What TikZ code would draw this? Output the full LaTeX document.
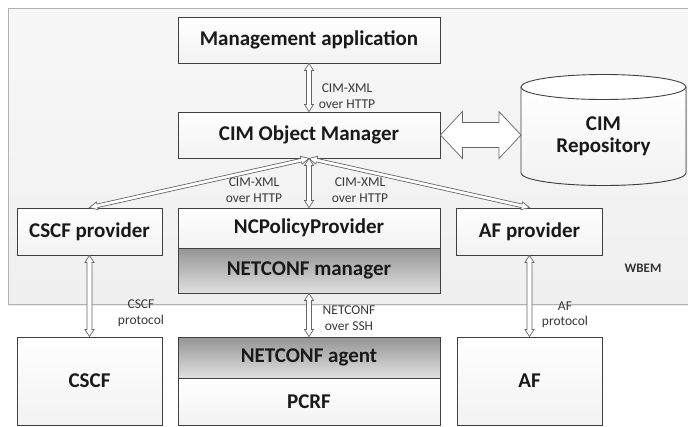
\documentclass[tikz,border=0pt]{standalone}
\usepackage{fontspec}
\setmainfont{Carlito}
\usetikzlibrary{calc}
\newcommand\harrow[6]{%
  \coordinate (ha-P) at ($(#2)!#6!(#3)$);
  \coordinate (ha-Q) at ($(#3)!#6!(#2)$);
  \filldraw[#1] (#2) -- ($(ha-P)!#5!90:(#3)$) -- ($(ha-P)!#4!90:(#3)$)
    -- ($(ha-Q)!#4!-90:(#2)$) -- ($(ha-Q)!#5!-90:(#2)$) -- (#3)
    -- ($(ha-Q)!#5!90:(#2)$) -- ($(ha-Q)!#4!90:(#2)$)
    -- ($(ha-P)!#4!-90:(#3)$) -- ($(ha-P)!#5!-90:(#3)$) -- cycle;
}
\tikzset{
  box/.style={draw=black!75, line width=0.9pt, top color=white, bottom color=black!5,
    inner sep=0pt, align=center, font=\bfseries\fontsize{21}{24}\selectfont, text=black!90},
  darkbox/.style={box, top color=black!42, bottom color=black!12},
  lbl/.style={align=center, font=\fontsize{13.5}{15.5}\selectfont, text=black!78, inner sep=0pt},
  harr/.style={draw=black!60, fill=white, line width=0.7pt, line join=miter},
}
\begin{document}
\begin{tikzpicture}[x=1pt,y=-1pt]
\useasboundingbox (0,0) rectangle (688,426);
\fill[white] (0,0) rectangle (688,426);
% WBEM area
\fill[black!8] (9,9) rectangle (692,306);
\draw[black!30, line width=1pt, top color=black!3, bottom color=black!6] (8,8) rectangle (690,304);
\node[lbl, font=\bfseries\fontsize{13}{15}\selectfont, text=black!80] (wbem) at (643,268) {WBEM};
% boxes
\node[box, minimum width=262pt, minimum height=46pt] (mgmt) at (309,40) {Management application};
\node[box, minimum width=262pt, minimum height=46pt] (cimom) at (309,135) {CIM Object Manager};
\node[box, minimum width=145pt, minimum height=47pt] (cscfp) at (89.5,231.5) {CSCF provider};
\node[box, minimum width=262pt, minimum height=40pt] (ncpp) at (309,228) {NCPolicyProvider};
\node[darkbox, minimum width=262pt, minimum height=45pt] (ncm) at (309,270.5) {NETCONF manager};
\node[box, minimum width=146pt, minimum height=47pt] (afp) at (529.5,231.5) {AF provider};
\node[box, minimum width=145pt, minimum height=88pt] (cscf) at (89.5,381) {CSCF};
\node[darkbox, minimum width=262pt, minimum height=41pt] (nca) at (309,357.5) {NETCONF agent};
\node[box, minimum width=262pt, minimum height=47pt] (pcrf) at (309,401.5) {PCRF};
\node[box, minimum width=145pt, minimum height=88pt] (af) at (529.5,381) {AF};
% repository cylinder
\filldraw[draw=black!75, line width=0.9pt, top color=white, bottom color=black!5]
  (521,87) -- (521,173) arc[start angle=180, end angle=0, x radius=82.5, y radius=12.5] -- (686,87);
\filldraw[draw=black!75, line width=0.9pt, fill=white] (603.5,87) ellipse[x radius=82.5, y radius=12.5];
\node[align=center, inner sep=0pt, font=\bfseries\fontsize{21}{24}\selectfont, text=black!90] (repo) at (603.5,136) {CIM\\[-2pt]Repository};
\coordinate (repoW) at (521,135);
% labels
\node[lbl] (l1) at (347,96) {CIM-XML\\over HTTP};
\node[lbl] (l2) at (254,190) {CIM-XML\\over HTTP};
\node[lbl] (l3) at (360,190) {CIM-XML\\over HTTP};
\node[lbl] (l4) at (349,318) {NETCONF\\over SSH};
\node[lbl] (l5) at (141,313) {CSCF\\protocol};
\node[lbl] (l6) at (565,315) {AF\\protocol};
% arrows
\harrow{harr}{mgmt.south}{cimom.north}{2.5pt}{4.5pt}{7pt}
\harrow{harr}{cimom.south}{ncpp.north}{2.5pt}{4.5pt}{7pt}
\harrow{harr}{cimom.south}{cscfp.north}{1.8pt}{4pt}{8pt}
\harrow{harr}{cimom.south}{afp.north}{1.8pt}{4pt}{8pt}
\harrow{harr}{cscfp.south}{cscf.north}{2.5pt}{4.5pt}{7pt}
\harrow{harr}{afp.south}{af.north}{2.5pt}{4.5pt}{7pt}
\harrow{harr}{ncm.south}{nca.north}{2.5pt}{4.5pt}{7pt}
\harrow{harr}{cimom.east}{repoW}{12.5pt}{23.5pt}{22pt}
\end{tikzpicture}
\end{document}
